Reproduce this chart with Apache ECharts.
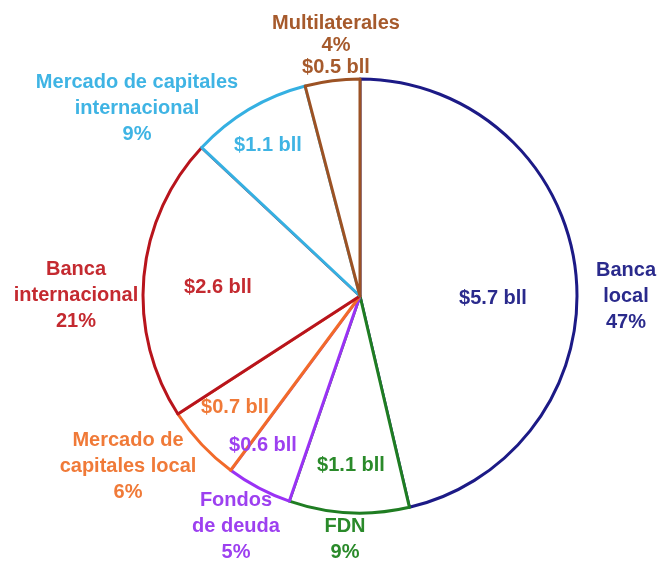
<!DOCTYPE html>
<html>
<head>
<meta charset="utf-8">
<script src="https://cdn.jsdelivr.net/npm/echarts@6/dist/echarts.min.js"></script>
<style>
html,body{margin:0;padding:0;background:#ffffff;}
#chart{width:660px;height:562px;}
</style>
</head>
<body>
<div id="chart"></div>
<script>
// Data
var categories = ["Banca\nlocal", "FDN", "Fondos\nde deuda", "Mercado de\ncapitales local", "Banca\ninternacional", "Mercado de capitales\ninternacional", "Multilaterales"];
var valuesBll = [5.7, 1.1, 0.6, 0.7, 2.6, 1.1, 0.5];
var sharesPct = [47, 9, 5, 6, 21, 9, 4];

// Styles
var borderColors = ["#1c1a86", "#1f7d22", "#9a32f5", "#f26a2a", "#b8141c", "#35b0e2", "#9c5224"];
var textColors = ["#2a2a8c", "#2a8a2a", "#9d40f0", "#f07a38", "#c42a30", "#3fb4e4", "#a65a2c"];
// label anchor positions (text centres)
var innerPos = [[493, 298], [351, 465], [263, 445], [235, 407], [218, 287], [268, 145], null];
var outerPos = [[626, 296], [345, 539], [236, 526], [128, 466], [76, 295], [137, 108], [336, 45]];

var FONT = '"Liberation Sans", Arial, sans-serif';

var innerData = categories.map(function (c, i) {
  return {
    name: c,
    value: valuesBll[i],
    itemStyle: { color: '#ffffff', borderColor: borderColors[i], borderWidth: 3 },
    label: {
      show: innerPos[i] !== null,
      color: textColors[i]
    }
  };
});

var outerData = categories.map(function (c, i) {
  var txt = c + '\n' + sharesPct[i] + '%';
  if (i === 6) txt += '\n$' + valuesBll[i].toFixed(1) + ' bll';
  return {
    name: c,
    value: valuesBll[i],
    label: {
      formatter: txt,
      color: textColors[i],
      lineHeight: i === 6 ? 22 : 26
    }
  };
});

var chart = echarts.init(document.getElementById('chart'), null, { renderer: 'canvas' });
chart.setOption({
  backgroundColor: '#ffffff',
  animation: false,
  series: [
    {
      type: 'pie',
      center: [360, 296],
      radius: [0, 217],
      startAngle: 90,
      clockwise: true,
      silent: true,
      data: innerData,
      label: {
        position: 'inside',
        fontFamily: FONT,
        fontWeight: 'bold',
        fontSize: 20,
        overflow: 'none',
        formatter: function (p) { return '$' + p.value.toFixed(1) + ' bll'; }
      },
      labelLine: { show: false },
      labelLayout: function (p) {
        var pos = innerPos[p.dataIndex];
        if (!pos) return {};
        return { x: pos[0], y: pos[1], align: 'center', verticalAlign: 'middle' };
      }
    },
    {
      type: 'pie',
      center: [360, 296],
      radius: [0, 217],
      startAngle: 90,
      clockwise: true,
      silent: true,
      z: 3,
      data: outerData,
      itemStyle: { color: 'rgba(0,0,0,0)', borderWidth: 0 },
      label: {
        position: 'inside',
        fontFamily: FONT,
        fontWeight: 'bold',
        fontSize: 20,
        overflow: 'none',
        align: 'center'
      },
      labelLine: { show: false },
      labelLayout: function (p) {
        var pos = outerPos[p.dataIndex];
        return { x: pos[0], y: pos[1], align: 'center', verticalAlign: 'middle' };
      }
    }
  ]
});
</script>
</body>
</html>
